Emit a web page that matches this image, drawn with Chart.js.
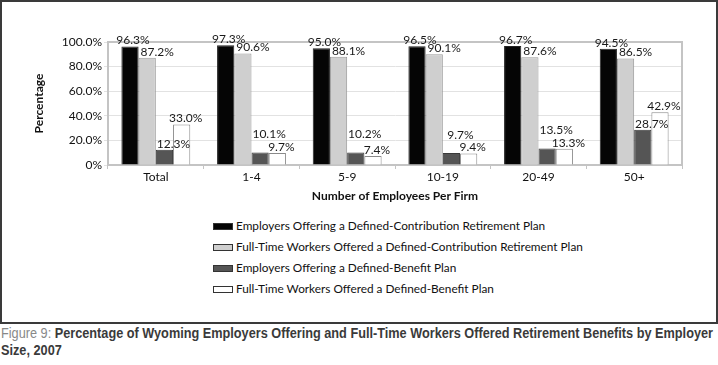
<!DOCTYPE html>
<html>
<head>
<meta charset="utf-8">
<style>
  body { margin: 0; background: #fff; width: 718px; height: 365px; position: relative; overflow: hidden; }
  #box { position: absolute; left: 0; top: 0; width: 714px; height: 320px; border: 2px solid #3a3a3a; }
  #wrap { position: absolute; left: 0; top: 0; width: 714px; height: 205px; }
  #legend { position: absolute; left: 211px; top: 216px; font-family: Lato, sans-serif; font-size: 11.8px; color: #111; }
  #legend div { height: 21px; line-height: 16px; white-space: nowrap; }
  #legend span.sw { display: inline-block; width: 20px; height: 7px; margin-right: 3px; vertical-align: 0px; box-sizing: border-box; border: 1px solid #333; }
  .cap { position: absolute; left: 1px; white-space: nowrap; transform-origin: 0 0; font-family: "Liberation Sans", Arial, sans-serif; font-weight: bold; font-size: 14px; line-height: 17px; color: #3a3a3a; }
  .cap .fig { color: #888; font-weight: normal; }
</style>
</head>
<body>
<div id="box">
  <div id="wrap"><canvas id="myChart"></canvas></div>
  <div id="legend"></div>
</div>
<div class="cap" id="cap1" style="top:325px"><span class="fig">Figure 9:</span> Percentage of Wyoming Employers Offering and Full-Time Workers Offered Retirement Benefits by Employer</div>
<div class="cap" id="cap2" style="top:342px">Size, 2007</div>

<script src="https://cdn.jsdelivr.net/npm/chart.js@4/dist/chart.umd.min.js"></script>
<script>
  const categories = ['Total', '1-4', '5-9', '10-19', '20-49', '50+']
  const seriesNames = [
    'Employers Offering a Defined-Contribution Retirement Plan',
    'Full-Time Workers Offered a Defined-Contribution Retirement Plan',
    'Employers Offering a Defined-Benefit Plan',
    'Full-Time Workers Offered a Defined-Benefit Plan',
  ]
  const employersDC = [96.3, 97.3, 95.0, 96.5, 96.7, 94.5]
  const workersDC = [87.2, 90.6, 88.1, 90.1, 87.6, 86.5]
  const employersDB = [12.3, 10.1, 10.2, 9.7, 13.5, 28.7]
  const workersDB = [33.0, 9.7, 7.4, 9.4, 13.3, 42.9]

  const fills = ['#050505', '#cfcfcf', '#555555', '#ffffff']
  const borders = ['#222222', '#9a9a9a', '#3a3a3a', '#8a8a8a']
  const values = [employersDC, workersDC, employersDB, workersDB]
  const labelShiftX = [3, 10, 9, 4]

  const font = 'Lato, sans-serif'

  // labels above bars + plot frame
  const extras = {
    id: 'extras',
    afterDatasetsDraw(chart) {
      const ctx = chart.ctx
      ctx.save()
      ctx.font = '12px ' + font
      ctx.fillStyle = '#1a1a1a'
      ctx.textAlign = 'center'
      ctx.textBaseline = 'middle'
      chart.data.datasets.forEach((ds, i) => {
        chart.getDatasetMeta(i).data.forEach((bar, j) => {
          let dy = -6
          // lift the label when it would collide with the neighbouring one
          if (i === 2 && Math.abs(workersDB[j] - employersDB[j]) < 6) dy = -18
          ctx.fillText(ds.data[j].toFixed(1) + '%', bar.x + labelShiftX[i], bar.y + dy)
        })
      })
      ctx.restore()
    },
    beforeDatasetsDraw(chart) {
      const a = chart.chartArea
      const ctx = chart.ctx
      ctx.save()
      ctx.strokeStyle = '#c4c4c4'
      ctx.lineWidth = 2
      ctx.strokeRect(a.left, a.top, a.right - a.left, a.bottom - a.top)
      ctx.restore()
    },
  }

  new Chart(document.getElementById('myChart'), {
    type: 'bar',
    data: {
      labels: categories,
      datasets: seriesNames.map((name, i) => ({
        label: name,
        data: values[i],
        backgroundColor: fills[i],
        borderColor: borders[i],
        borderWidth: 1,
        categoryPercentage: 0.72,
        barPercentage: 1.0,
      })),
    },
    options: {
      responsive: true,
      maintainAspectRatio: false,
      animation: false,
      layout: { padding: { left: 30, right: 34, top: 40, bottom: 2 } },
      plugins: { legend: { display: false }, tooltip: { enabled: false } },
      scales: {
        x: {
          afterFit: (s) => { s.height = 40 },
          grid: { offset: true, drawOnChartArea: false, tickLength: 4, color: '#c4c4c4' },
          border: { color: '#c4c4c4', width: 2 },
          ticks: { color: '#111', font: { family: font, size: 12 }, padding: 1 },
          title: { display: true, text: 'Number of Employees Per Firm', color: '#111', font: { family: font, size: 12, weight: 'bold' }, padding: { top: 0, bottom: 2 } },
        },
        y: {
          min: 0,
          max: 100,
          afterFit: (s) => { s.width = 76 },
          grid: { color: '#e2e2e2', tickLength: 4 },
          border: { color: '#c4c4c4', width: 2 },
          ticks: {
            stepSize: 10,
            color: '#111',
            font: { family: font, size: 12 },
            padding: 2,
            callback: (v) => (v % 20 !== 0 ? '' : v === 0 ? '0%' : v.toFixed(1) + '%'),
          },
          title: { display: true, text: 'Percentage', color: '#111', font: { family: font, size: 12, weight: 'bold' }, padding: 0 },
        },
      },
    },
    plugins: [extras],
  })

  const legend = document.getElementById('legend')
  seriesNames.forEach((name, i) => {
    const row = document.createElement('div')
    row.innerHTML = '<span class="sw" style="background:' + fills[i] + '"></span>' + name
    legend.appendChild(row)
  })

  // condensed caption: squeeze first line to the box width
  const c1 = document.getElementById('cap1')
  const c2 = document.getElementById('cap2')
  const k = 712 / c1.getBoundingClientRect().width
  c1.style.transform = 'scaleX(' + k + ')'
  c2.style.transform = 'scaleX(' + k + ')'
</script>
</body>
</html>
